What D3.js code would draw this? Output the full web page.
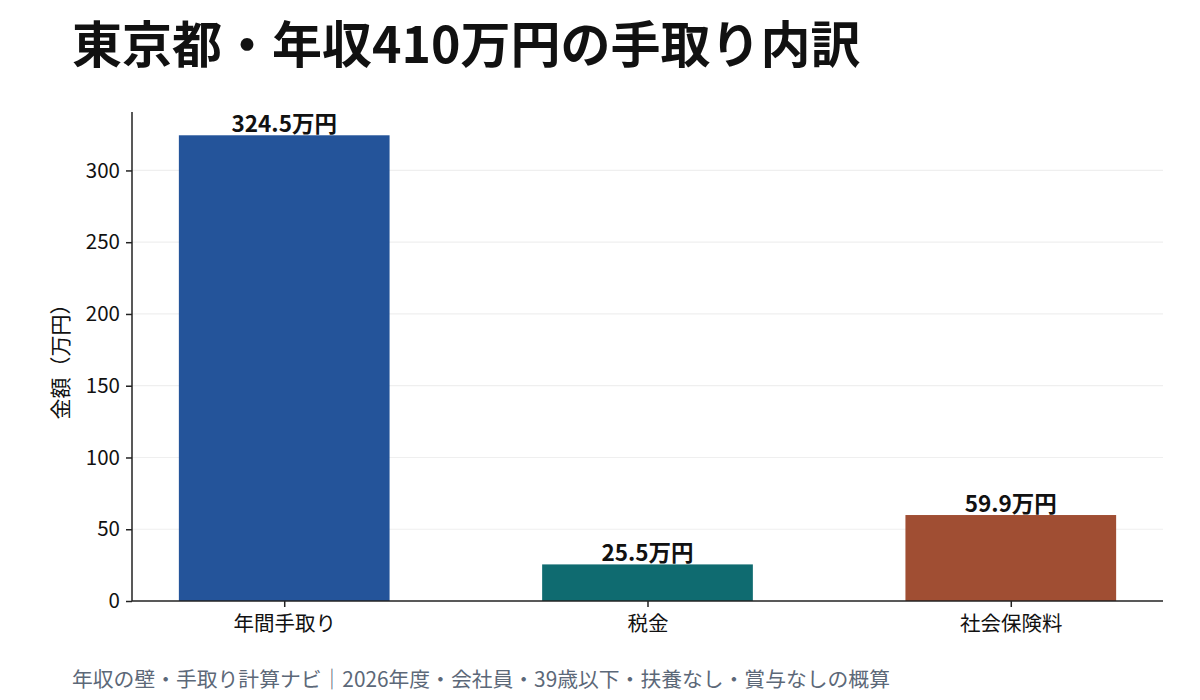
<!DOCTYPE html>
<html>
<head>
<meta charset="utf-8">
<script src="https://cdn.jsdelivr.net/npm/d3@7.9.0/dist/d3.min.js"></script>
<style>
  body { margin: 0; background: #fff; }
  svg { font-family: "Noto Sans CJK JP", "Noto Sans", sans-serif; }
</style>
</head>
<body>
<svg id="chart" width="1200" height="700"></svg>
<script>
const categories = ['年間手取り', '税金', '社会保険料'];
const values = [324.5, 25.5, 59.9];
const colors = ['#24549a', '#0f6b70', '#a04e33'];
const yTicks = [0, 50, 100, 150, 200, 250, 300];

const svg = d3.select('#chart');
const margin = { top: 112, right: 37, bottom: 99, left: 132 };
const width = 1200 - margin.left - margin.right;
const height = 700 - margin.top - margin.bottom;

// bar width 0.58 on positions 0..n-1, 5% padding like matplotlib
const barW = 0.58;
const lo = -barW / 2, hi = categories.length - 1 + barW / 2;
const pad = (hi - lo) * 0.05;
const x = d3.scaleLinear().domain([lo - pad, hi + pad]).range([0, width]);
const y = d3.scaleLinear().domain([0, d3.max(values) * 1.05]).range([height, 0]);

const g = svg.append('g').attr('transform', `translate(${margin.left},${margin.top})`);

// grid
g.append('g')
  .selectAll('line')
  .data(yTicks.filter(d => d > 0))
  .join('line')
    .attr('x1', 0).attr('x2', width)
    .attr('y1', d => y(d)).attr('y2', d => y(d))
    .attr('stroke', '#efefef').attr('stroke-width', 1.2);

// bars
g.selectAll('rect.bar')
  .data(values)
  .join('rect')
    .attr('class', 'bar')
    .attr('x', (d, i) => x(i - barW / 2))
    .attr('width', (d, i) => x(i + barW / 2) - x(i - barW / 2))
    .attr('y', d => y(d))
    .attr('height', d => height - y(d))
    .attr('fill', (d, i) => colors[i]);

// value labels
g.selectAll('text.val')
  .data(values)
  .join('text')
    .attr('class', 'val')
    .attr('x', (d, i) => x(i))
    .attr('y', d => y(d) - 3)
    .attr('text-anchor', 'middle')
    .attr('font-size', 22.5)
    .attr('font-weight', 'bold')
    .attr('fill', '#111')
    .text(d => `${d.toFixed(1)}万円`);

// axes
const yAxis = g.append('g')
  .call(d3.axisLeft(y).tickValues(yTicks).tickSize(6).tickPadding(6));
const xAxis = g.append('g')
  .attr('transform', `translate(0,${height})`)
  .call(d3.axisBottom(x).tickValues(d3.range(categories.length))
    .tickFormat(i => categories[i]).tickSize(6).tickPadding(9));

[yAxis, xAxis].forEach(a => {
  a.select('.domain').attr('stroke', '#222').attr('stroke-width', 1.5);
  a.selectAll('.tick line').attr('stroke', '#222').attr('stroke-width', 1.5);
  a.selectAll('.tick text').attr('font-size', 20.5).attr('fill', '#111')
    .attr('font-family', '"Noto Sans CJK JP", sans-serif');
});
yAxis.select('.domain').attr('d', `M0,${height}V0`);
xAxis.select('.domain').attr('d', `M0,0H${width}`);

// y label
g.append('text')
  .attr('transform', `translate(-64,${height / 2}) rotate(-90)`)
  .attr('text-anchor', 'middle')
  .attr('font-size', 21)
  .attr('fill', '#111')
  .text('金額（万円）');

// title
svg.append('text')
  .attr('x', 72).attr('y', 63)
  .attr('font-size', 50)
  .attr('font-weight', 'bold')
  .attr('fill', '#111')
  .text('東京都・年収410万円の手取り内訳');

// footer
svg.append('text')
  .attr('x', 72).attr('y', 687)
  .attr('font-size', 20.8)
  .attr('fill', '#5c6878')
  .text('年収の壁・手取り計算ナビ｜2026年度・会社員・39歳以下・扶養なし・賞与なしの概算');
</script>
</body>
</html>
